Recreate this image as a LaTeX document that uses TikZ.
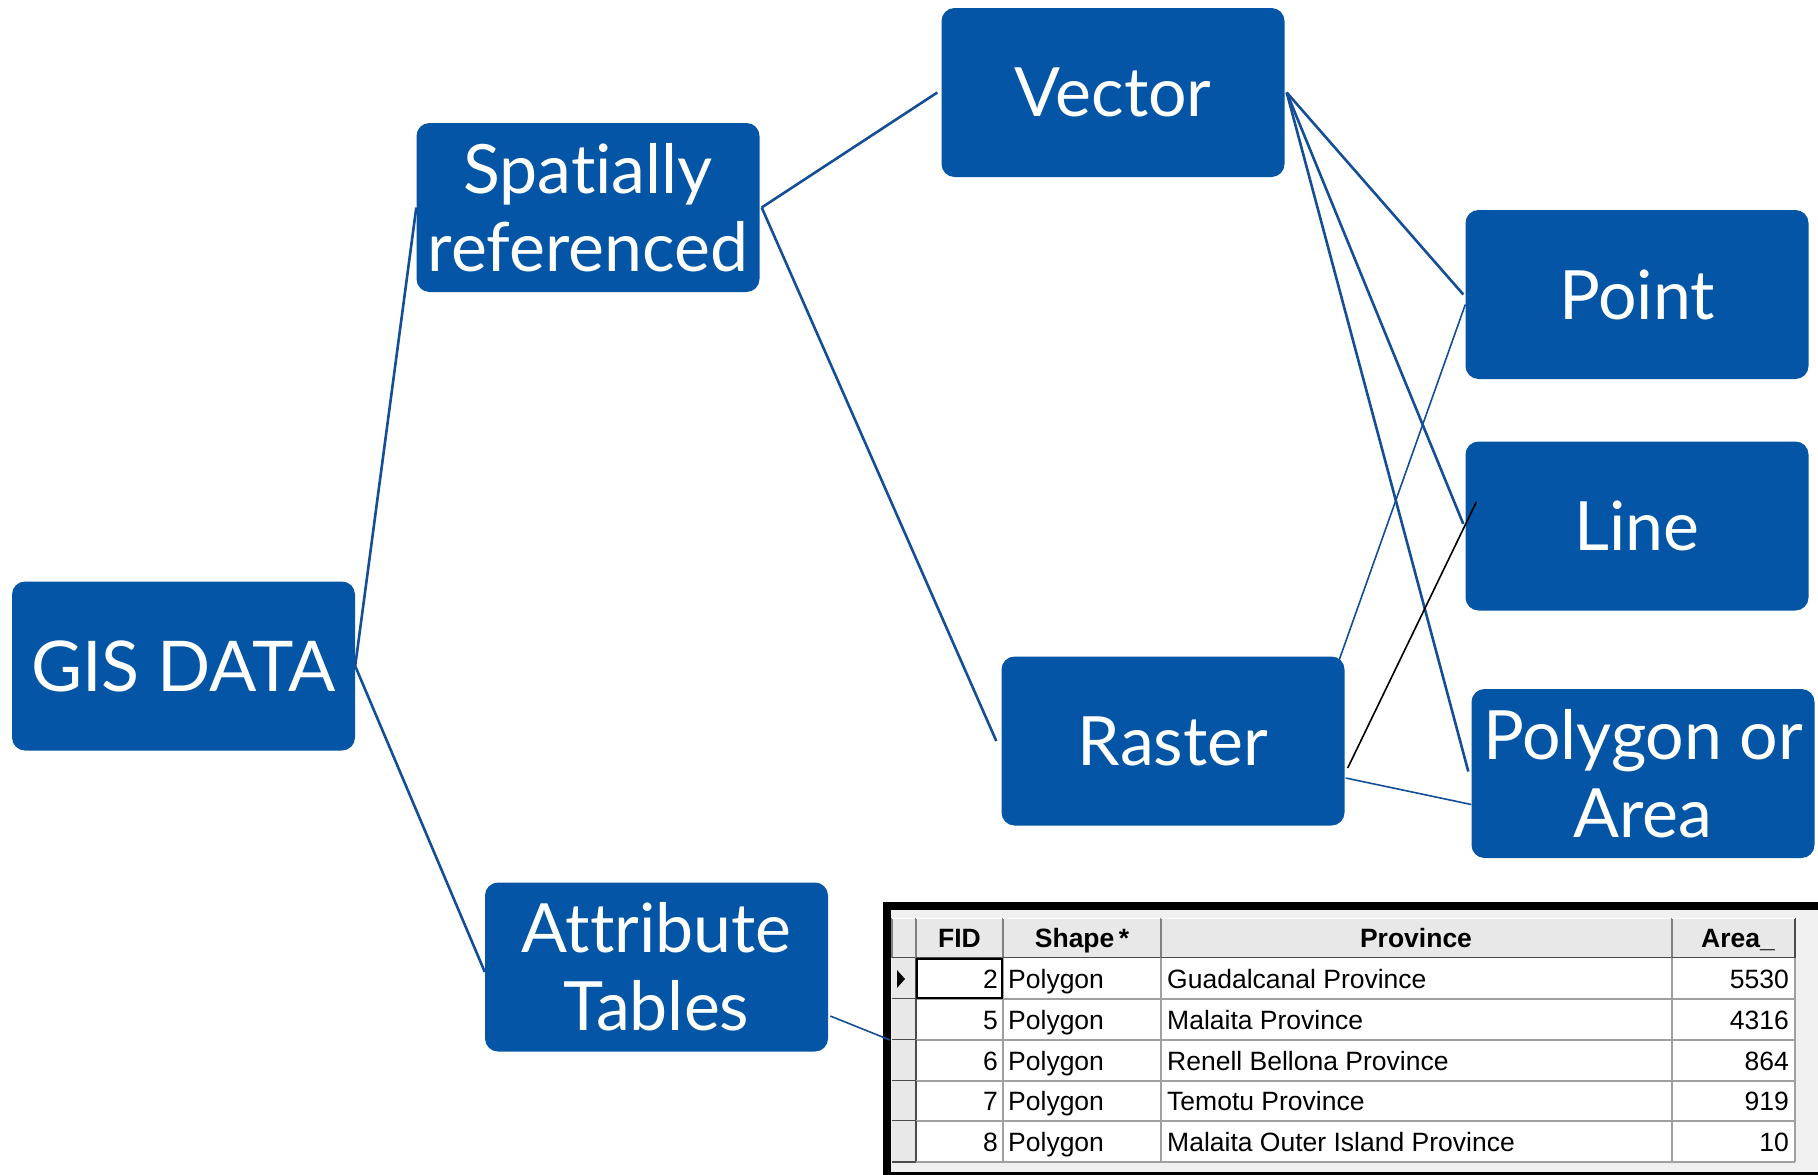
\documentclass[tikz,border=0pt]{standalone}
\usepackage{fontspec}
\setmainfont{Lato}[Ligatures=NoCommon, RawFeature={-liga;-clig;-dlig;-calt}]
\newfontfamily\tablefont{Liberation Sans}
\usetikzlibrary{calc}
\definecolor{boxblue}{RGB}{4,85,165}
\definecolor{linkblue}{RGB}{20,78,150}
\definecolor{gridgray}{RGB}{160,160,160}
\definecolor{panelgray}{RGB}{240,240,240}
\definecolor{headgray}{RGB}{232,232,232}
\tikzset{
  topic/.style={fill=boxblue, rounded corners=13pt, minimum width=343pt,
    minimum height=169pt, inner sep=0pt, text=white, align=center,
    font=\fontsize{68}{78}\selectfont},
  link/.style={draw=linkblue, line width=2.6pt},
  thinlink/.style={draw=linkblue, line width=1.6pt},
  blacklink/.style={draw=black, line width=1.6pt},
  cellr/.style={anchor=base east, inner sep=0pt, font=\tablefont\fontsize{26.5}{30}\selectfont},
  celll/.style={anchor=base west, inner sep=0pt, font=\tablefont\fontsize{26.5}{30}\selectfont},
  headc/.style={anchor=base, inner sep=0pt, font=\tablefont\bfseries\fontsize{26.5}{30}\selectfont},
}
\begin{document}
\begin{tikzpicture}[x=1pt,y=-1pt]
\useasboundingbox (0,0) rectangle (1818,1175);

% --- topic boxes ---
\node[topic, font=\fontsize{70}{78}\selectfont] (gis) at (183.5,666) {GIS DATA};
\node[topic] (spat)   at (588,207.5)  {Spatially\\referenced};
\node[topic] (vec)    at (1113,92.5)  {Vector};
\node[topic] (point)  at (1637,294.5) {Point};
\node[topic] (line)   at (1637,526)   {Line};
\node[topic] (poly)   at (1643,773.5) {Polygon or\\Area};
\node[topic] (raster) at (1173,741)   {Raster};
\node[topic] (attr)   at (656.5,967)  {Attribute\\Tables};

% --- attribute table panel ---
\fill[black] (883,902) rectangle (1818,1175);
\fill[panelgray] (891,910) rectangle (1818,1172);
\coordinate (tab) at (890,1040);

% header row
\foreach \xa/\xb in {892/916, 916/1003, 1003/1161, 1161/1672, 1672/1795}{
  \fill[headgray] (\xa,918) rectangle (\xb,958);
  \draw[gray, line width=1.2pt] (\xa,918) -- (\xa,958);
  \draw[black!70, line width=1.6pt] (\xb,918) -- (\xb,958);
  \draw[black!70, line width=1.6pt] (\xa,958) -- (\xb,958);
  \draw[white, line width=1.2pt] (\xa,918.5) -- (\xb,918.5);
}
\node[headc] (hfid)   at (959.5,947) {FID};
\node[headc] (hshape) at (1082,947)  {Shape\,*};
\node[headc] (hprov)  at (1416,947)  {Province};
\node[headc] (harea)  at (1738,947)  {Area\_};

% data rows
\fill[white] (916,958) rectangle (1795,1162);
\foreach \ya/\yb/\fid/\prov/\area [count=\r] in {
  958/999/2/Guadalcanal Province/5530,
  999/1040/5/Malaita Province/4316,
  1040/1081/6/Renell Bellona Province/864,
  1081/1121/7/Temotu Province/919,
  1121/1162/8/Malaita Outer Island Province/10}{
  % row selector
  \fill[headgray] (892,\ya) rectangle (916,\yb);
  \draw[black!70, line width=1.6pt] (892,\yb) -- (916,\yb);
  \draw[black!70, line width=1.6pt] (916,\ya) -- (916,\yb);
  \draw[gridgray, line width=1.4pt] (916,\yb) -- (1795,\yb);
  \foreach \xc in {1003,1161,1672,1795}{
    \draw[gridgray, line width=1.4pt] (\xc,\ya) -- (\xc,\yb);
  }
  \node[cellr] (fid\r)   at (998,{(\ya+\yb)/2+9.5})  {\fid};
  \node[celll] (shape\r) at (1008,{(\ya+\yb)/2+9.5}) {Polygon};
  \node[celll] (prov\r)  at (1167,{(\ya+\yb)/2+9.5}) {\prov};
  \node[cellr] (area\r)  at (1789,{(\ya+\yb)/2+9.5}) {\area};
}
% current record marker and selected cell
\fill[black] (897,970) -- (897,988) -- (905,979) -- cycle;
\draw[black, line width=2pt] (917,959) rectangle (1002,998);

% --- connectors ---
\draw[link] (gis.east) -- (spat.west);
\draw[link] (gis.east) -- ([yshift=-5pt]attr.west);
\draw[link] ([xshift=2pt]spat.east) -- ([xshift=-4pt]vec.west);
\draw[link] ([xshift=2pt]spat.east) -- ([xshift=-5pt]raster.west);
\draw[link] ([xshift=2pt]vec.east) -- ([xshift=-2pt]point.west);
\draw[link] ([xshift=2pt]vec.east) -- ([xshift=-2pt,yshift=2pt]line.west);
\draw[link] ([xshift=2pt]vec.east) -- ([xshift=-3pt,yshift=2pt]poly.west);
\draw[thinlink] ([xshift=-6pt,yshift=-5pt]raster.north east) -- ([yshift=-10pt]point.west);
\draw[blacklink] ([xshift=3pt,yshift=-27pt]raster.east) -- ([xshift=11pt,yshift=24pt]line.west);
\draw[thinlink] ([xshift=1pt,yshift=-37pt]raster.east) -- ([yshift=-31pt]poly.west);
\draw[thinlink] ([xshift=2pt,yshift=-49pt]attr.east) -- (tab);
\end{tikzpicture}
\end{document}
